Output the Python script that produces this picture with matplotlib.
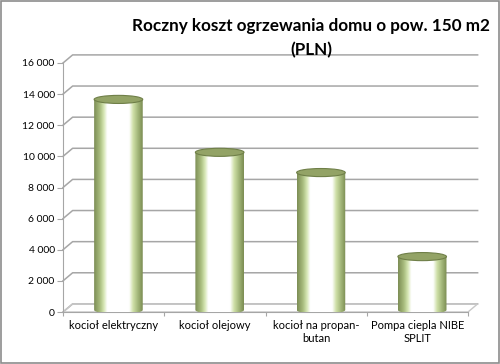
import numpy as np
import matplotlib.pyplot as plt
from matplotlib.path import Path
from matplotlib.patches import Ellipse, Polygon, Rectangle
from matplotlib.colors import to_rgb

plt.rcParams['font.family'] = ['Lato', 'DejaVu Sans']

kategorie = ["kocioł elektryczny", "kocioł olejowy", "kocioł na propan-\nbutan", "Pompa ciepla NIBE\nSPLIT"]
koszt = [13400, 10000, 8700, 3300]
osie_y = list(range(0, 16001, 2000))

fig = plt.figure(figsize=(5, 3.64), dpi=100)
ax = fig.add_axes([63 / 500, 52 / 364, 405 / 500, 249 / 364])
ax.set_xlim(0, 4)
ax.set_ylim(0, 16000)

# przesuniecie "glebi" (efekt 3D jak w Excelu)
dx, dy = 0.095, 520
szary = '#a6a6a6'

for v in osie_y:
    ax.plot([0, dx, 4 + dx], [v, v + dy, v + dy], color=szary, lw=1.1, clip_on=False, zorder=1)
ax.add_patch(Polygon([[0, 0], [4, 0], [4 + dx, dy], [dx, dy]], closed=True, fill=False,
                     edgecolor='#c8c8c8', lw=1, clip_on=False, zorder=1))

# gradient walca: ciemna oliwka - jasna zielen - biel - jasna zielen - oliwka
stops = [(0.0, '#7d8e55'), (0.12, '#a9bd7f'), (0.2, '#d6e6b4'), (0.27, '#ffffff'),
         (0.72, '#ffffff'), (0.8, '#cfe0a8'), (0.9, '#a3b77a'), (1.0, '#7b8c52')]
xs = np.linspace(0, 1, 120)
pos = [s[0] for s in stops]
cols = np.array([to_rgb(s[1]) for s in stops])
grad = np.stack([np.interp(xs, pos, cols[:, k]) for k in range(3)], axis=-1)[None, :, :]

bw = 0.48
eh = 520
for i, v in enumerate(koszt):
    xc = i + 0.5 + dx / 2
    x0, x1 = xc - bw / 2, xc + bw / 2
    top = v + dy / 2
    base = dy / 4
    t = np.linspace(np.pi, 2 * np.pi, 40)
    pts = [(x0, top), (x0, base)] + [(xc + bw / 2 * np.cos(a), base + eh / 2 * np.sin(a)) for a in t] + [(x1, top), (x0, top)]
    clip = Path(pts)
    im = ax.imshow(grad, extent=[x0, x1, base - eh, top], aspect='auto', zorder=3, interpolation='bilinear')
    im.set_clip_path(clip, ax.transData)
    ax.add_patch(Ellipse((xc, top), bw, eh, facecolor='#93a366', edgecolor='#6f7f48', lw=0.8, zorder=4))

ax.set_xlim(0, 4)
ax.set_ylim(0, 16000)

ax.set_yticks(osie_y)
ax.set_yticklabels([f"{v:,}".replace(",", " ") for v in osie_y], fontsize=7.5)
ax.set_xticks([0, 1, 2, 3, 4])
ax.set_xticklabels([])
ax.set_xticks([0.5, 1.5, 2.5, 3.5], minor=True)
ax.set_xticklabels(kategorie, minor=True, fontsize=8)
ax.tick_params(axis='x', which='minor', length=0, pad=6)
ax.tick_params(axis='x', which='major', length=3, color=szary)
ax.tick_params(axis='y', length=4, color=szary, pad=2)

for s in ['top', 'right']:
    ax.spines[s].set_visible(False)
ax.spines['left'].set_color(szary)
ax.spines['bottom'].set_color(szary)
ax.set_facecolor('none')

fig.text(0.622, 0.895, "Roczny koszt ogrzewania domu o pow. 150 m2\n(PLN)", ha='center', va='center',
         fontsize=12.3, fontweight='bold', linespacing=1.55)

fig.patches.append(Rectangle((0.002, 0.003), 0.995, 0.993, transform=fig.transFigure, fill=False,
                             edgecolor='#8c8c8c', lw=1.2))

fig.savefig('out.png', dpi=100)
